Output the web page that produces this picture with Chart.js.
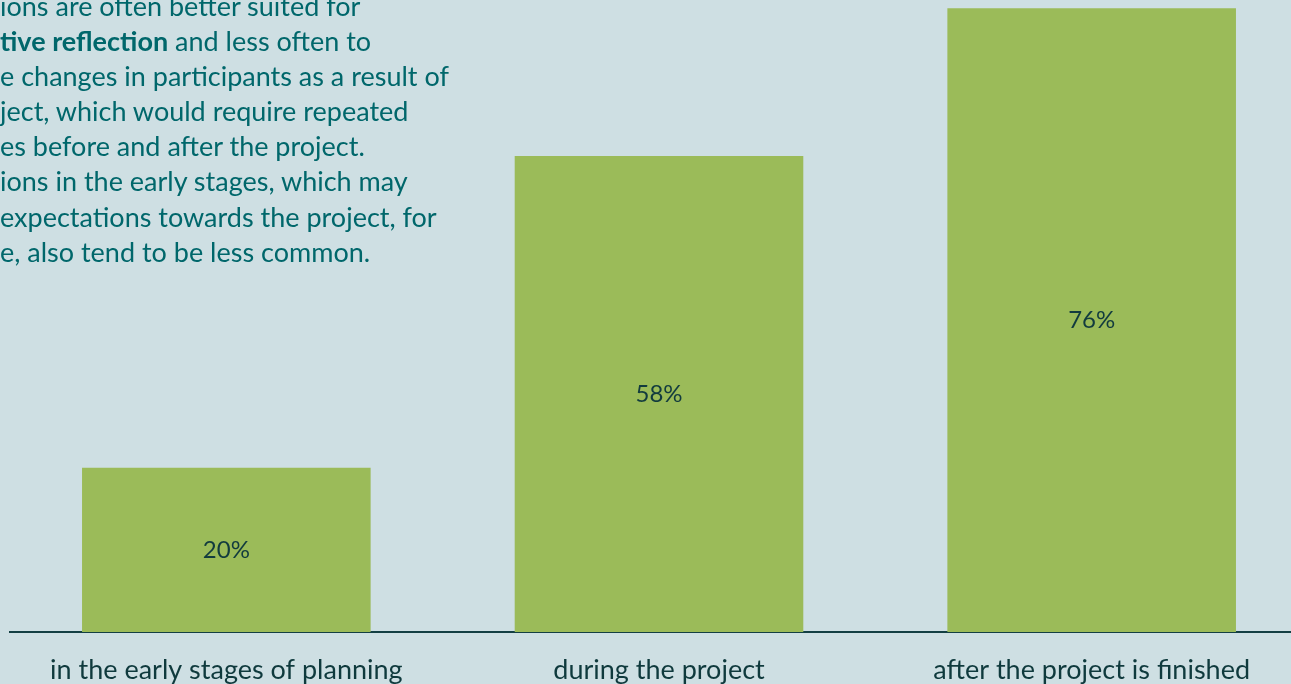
<!DOCTYPE html>
<html>
<head>
<meta charset="utf-8">
<script src="https://cdn.jsdelivr.net/npm/chart.js@4"></script>
<style>
  html, body { margin: 0; padding: 0; background: #cedfe3; overflow: hidden; }
  #wrap { position: absolute; left: 0; top: 0; width: 1308px; height: 684px; }
  #note {
    position: absolute; left: 0; top: -12px; margin: 0;
    font-family: Lato, "Open Sans", sans-serif; font-size: 27px; line-height: 35.1px;
    color: #00676b; white-space: pre; z-index: 2;
  }
  #note b { font-weight: 700; }
</style>
</head>
<body>
<div id="wrap"><canvas id="barChart"></canvas></div>
<p id="note">ions are often better suited for
<b>tive reflection</b> and less often to
e changes in participants as a result of
ject, which would require repeated
es before and after the project.
ions in the early stages, which may
expectations towards the project, for
e, also tend to be less common.</p>
<script>
const categories = ["in the early stages of planning", "during the project", "after the project is finished"];
const shares = [20, 58, 76];

// percentage text centred inside each bar
const barLabels = {
  id: "barLabels",
  afterDatasetsDraw(chart) {
    const ctx = chart.ctx;
    const meta = chart.getDatasetMeta(0);
    ctx.save();
    ctx.font = "24px Lato";
    ctx.fillStyle = "#123b3e";
    ctx.textAlign = "center";
    ctx.textBaseline = "middle";
    meta.data.forEach(function (bar, i) {
      ctx.fillText(shares[i] + "%", bar.x, (bar.y + bar.base) / 2);
    });
    ctx.restore();
  },
};

const barChartDiv = document.getElementById("barChart").getContext("2d");
const barChart = new Chart(barChartDiv, {
  type: "bar",
  data: {
    labels: categories,
    datasets: [
      {
        label: "Share",
        data: shares,
        backgroundColor: "#9bbb59",
        borderWidth: 0,
        barPercentage: 0.667,
        categoryPercentage: 1,
      },
    ],
  },
  options: {
    responsive: true,
    maintainAspectRatio: false,
    animation: false,
    layout: { padding: { left: 10, right: 0, top: 0, bottom: 0 } },
    plugins: {
      legend: { display: false },
      tooltip: { enabled: false },
    },
    scales: {
      y: {
        display: false,
        beginAtZero: true,
        min: 0,
        max: 77,
      },
      x: {
        afterFit: function (scale) {
          scale.height = 52;
        },
        grid: { display: false },
        border: { display: true, color: "#133f43", width: 2 },
        ticks: {
          color: "#0f3a3d",
          padding: 14,
          maxRotation: 0,
          font: { family: "Lato", size: 27 },
        },
      },
    },
  },
  plugins: [barLabels],
});
</script>
</body>
</html>
